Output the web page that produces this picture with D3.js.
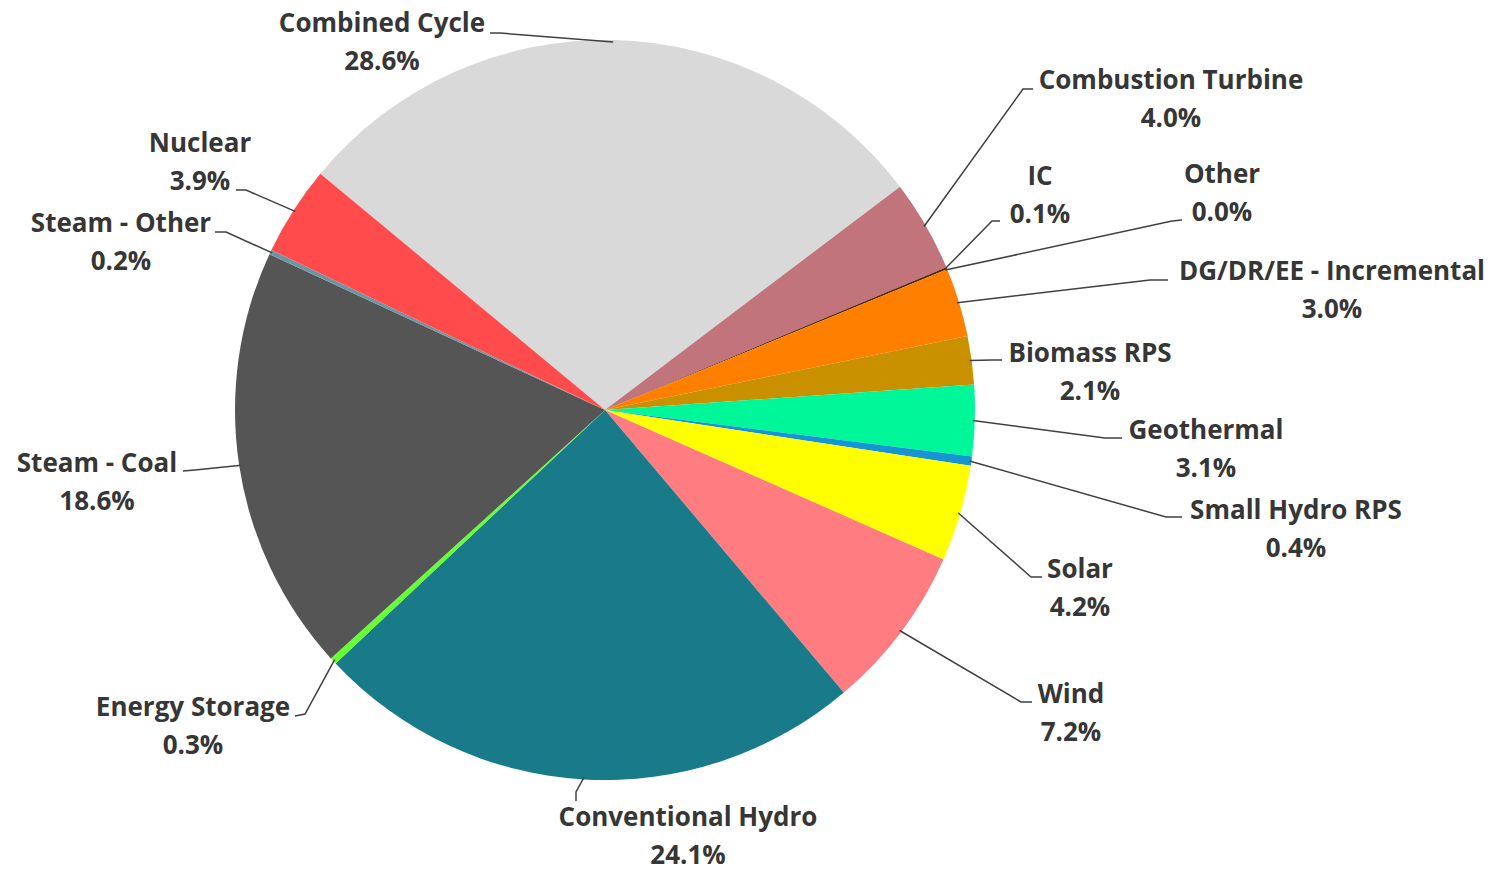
<!DOCTYPE html>
<html>
<head>
<meta charset="utf-8">
<script src="https://cdn.jsdelivr.net/npm/d3@7"></script>
<style>
  body { margin: 0; background: #fff; }
  svg text { font-family: "Open Sans", Lato, sans-serif; font-weight: 700; fill: #363636; }
</style>
</head>
<body>
<svg id="chart" width="1502" height="871"></svg>
<script>
const categories = ["Combined Cycle", "Combustion Turbine", "IC", "Other", "DG/DR/EE - Incremental",
    "Biomass RPS", "Geothermal", "Small Hydro RPS", "Solar", "Wind", "Conventional Hydro",
    "Energy Storage", "Steam - Coal", "Steam - Other", "Nuclear"];
const shares = [28.6, 4.0, 0.1, 0.0, 3.0, 2.1, 3.1, 0.4, 4.2, 7.2, 24.1, 0.3, 18.6, 0.2, 3.9];
const sliceColors = ["#d9d9d9", "#c1747b", "#5a2a0c", "#7f7f7f", "#ff8000", "#c99000", "#00f799",
    "#1695d4", "#ffff00", "#ff7c80", "#197b8a", "#66ff33", "#555555", "#6a97a3", "#ff4b4b"];

// hand placed label spots: text centre x, first baseline y, leader start and elbow
const labelSpots = [
    {x: 382, y: 32, ax: 490, ay: 33, ex: 500, ey: 33},
    {x: 1171, y: 89, ax: 1033, ay: 89, ex: 1023, ey: 89},
    {x: 1040, y: 185, ax: 1000, ay: 221, ex: 992, ey: 221},
    {x: 1222, y: 183, ax: 1182, ay: 220, ex: 1172, ey: 221},
    {x: 1332, y: 280, ax: 1168, ay: 280, ex: 1150, ey: 280},
    {x: 1090, y: 362, ax: 1002, ay: 360, ex: 992, ey: 360},
    {x: 1206, y: 439, ax: 1122, ay: 438, ex: 1105, ey: 438},
    {x: 1296, y: 519, ax: 1182, ay: 517, ex: 1166, ey: 517},
    {x: 1080, y: 578, ax: 1042, ay: 577, ex: 1031, ey: 577},
    {x: 1071, y: 703, ax: 1032, ay: 702, ex: 1021, ey: 702},
    {x: 688, y: 826, ax: 576, ay: 801, ex: 576, ey: 792},
    {x: 193, y: 716, ax: 295, ay: 716, ex: 305, ey: 714},
    {x: 97, y: 472, ax: 183, ay: 471, ex: 195, ey: 470},
    {x: 121, y: 232, ax: 215, ay: 232, ex: 226, ey: 232},
    {x: 200, y: 152, ax: 236, ay: 190, ex: 246, ey: 190}
];

const cx = 605, cy = 410, radius = 370;
const lineGap = 38;

const svg = d3.select("#chart");
const data = categories.map((c, i) => ({name: c, value: shares[i], color: sliceColors[i], spot: labelSpots[i]}));

const startDeg = -50.3;
const pie = d3.pie()
    .sort(null)
    .value(d => d.value)
    .startAngle(startDeg * Math.PI / 180)
    .endAngle((startDeg + 360) * Math.PI / 180);

const arc = d3.arc().innerRadius(0).outerRadius(radius);

const g = svg.append("g").attr("transform", `translate(${cx},${cy})`);
const arcs = pie(data);

g.selectAll("path.slice")
    .data(arcs)
    .join("path")
    .attr("class", "slice")
    .attr("d", arc)
    .attr("fill", d => d.data.color);

// leader lines
svg.selectAll("polyline.leader")
    .data(arcs)
    .join("polyline")
    .attr("class", "leader")
    .attr("fill", "none")
    .attr("stroke", "#404040")
    .attr("stroke-width", 1.5)
    .attr("points", d => {
        const s = d.data.spot;
        const a = (d.startAngle + d.endAngle) / 2;
        const px = cx + (radius - 2) * Math.sin(a);
        const py = cy - (radius - 2) * Math.cos(a);
        return [[s.ax, s.ay], [s.ex, s.ey], [px, py]].map(p => p.join(",")).join(" ");
    });

const labels = svg.selectAll("g.label")
    .data(data)
    .join("g")
    .attr("class", "label");

labels.append("text")
    .attr("x", d => d.spot.x)
    .attr("y", d => d.spot.y)
    .attr("text-anchor", "middle")
    .style("font-size", "26px")
    .text(d => d.name);

labels.append("text")
    .attr("x", d => d.spot.x)
    .attr("y", d => d.spot.y + lineGap)
    .attr("text-anchor", "middle")
    .style("font-size", "26px")
    .text(d => d.value.toFixed(1) + "%");
</script>
</body>
</html>
